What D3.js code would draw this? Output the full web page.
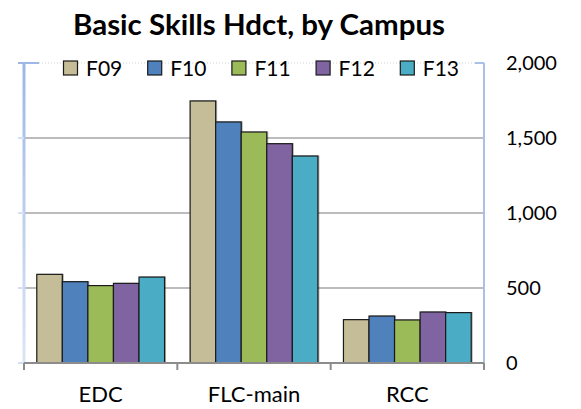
<!DOCTYPE html>
<html>
<head>
<meta charset="utf-8">
<script src="https://cdn.jsdelivr.net/npm/d3@7"></script>
<style>
  body { margin: 0; background: #fff; }
  text { font-family: Lato, "Open Sans", sans-serif; fill: #000; }
</style>
</head>
<body>
<svg id="chart" width="581" height="409"></svg>
<script>
const campuses = ['EDC', 'FLC-main', 'RCC'];
const terms = ['F09', 'F10', 'F11', 'F12', 'F13'];
const termColors = ['#c4bd97', '#4f81bd', '#9bbb59', '#8064a2', '#4bacc6'];
// headcount per campus, one array per term
const f09 = [591, 1747, 289];
const f10 = [542, 1607, 313];
const f11 = [516, 1540, 287];
const f12 = [531, 1462, 340];
const f13 = [573, 1380, 336];
const yTicks = [0, 500, 1000, 1500, 2000];

const seriesValues = [f09, f10, f11, f12, f13];
const rows = [];
terms.forEach((t, i) => {
  campuses.forEach((c, j) => rows.push({ term: t, campus: c, value: seriesValues[i][j], color: termColors[i] }));
});

const svg = d3.select('#chart');
const plotLeft = 24, plotRight = 484, plotTop = 63, plotBottom = 363;

let x = d3.scaleBand().domain(campuses).range([plotLeft, plotRight]);
let xInner = d3.scaleBand().domain(terms).range([0, x.bandwidth()]).paddingOuter(0.5);
let y = d3.scaleLinear().domain([0, 2000]).range([plotBottom, plotTop]);

// title
svg.append('text')
  .attr('x', 73).attr('y', 34.5)
  .attr('textLength', 372).attr('lengthAdjust', 'spacingAndGlyphs')
  .style('font-weight', 'bold').style('font-size', '28px')
  .text('Basic Skills Hdct, by Campus');

// gridlines
svg.append('g').selectAll('line')
  .data(yTicks.filter(d => d > 0))
  .join('line')
  .attr('x1', plotLeft).attr('x2', plotRight)
  .attr('y1', d => y(d)).attr('y2', d => y(d))
  .attr('stroke', d => d === 2000 ? '#d0d0d0' : '#a6a6a6')
  .attr('stroke-width', d => d === 2000 ? 1 : 1.5)
  .attr('stroke-dasharray', d => d === 2000 ? '1,2' : null);

// left axis (light blue, no labels)
let grad = svg.append('defs').append('linearGradient')
  .attr('id', 'axisGrad').attr('x1', 0).attr('x2', 0).attr('y1', 0).attr('y2', 1);
grad.append('stop').attr('offset', '0%').attr('stop-color', '#9db8e6');
grad.append('stop').attr('offset', '100%').attr('stop-color', '#dbe5f5');

svg.append('rect')
  .attr('x', plotLeft - 1.5).attr('y', plotTop).attr('width', 3).attr('height', plotBottom - plotTop)
  .attr('fill', 'url(#axisGrad)');
svg.append('g').selectAll('line')
  .data(yTicks)
  .join('line')
  .attr('x1', plotLeft - 6).attr('x2', d => d === 2000 ? plotLeft + 15 : plotLeft)
  .attr('y1', d => y(d)).attr('y2', d => y(d))
  .attr('stroke', d => d === 2000 ? '#9db8e6' : '#d3e0f3')
  .attr('stroke-width', 2);

// right axis line
svg.append('line')
  .attr('x1', plotRight).attr('x2', plotRight).attr('y1', plotTop).attr('y2', plotBottom)
  .attr('stroke', '#a9c0e8').attr('stroke-width', 2);
svg.append('line')
  .attr('x1', plotRight - 9).attr('x2', plotRight).attr('y1', plotTop).attr('y2', plotTop)
  .attr('stroke', '#a9c0e8').attr('stroke-width', 2);

// right tick labels
svg.append('g').selectAll('text')
  .data(yTicks)
  .join('text')
  .attr('x', 506).attr('y', d => y(d))
  .attr('dy', '0.36em')
  .style('font-size', '20px')
  .text(d => d3.format(',')(d));

// bars
let bars = svg.append('g').selectAll('g')
  .data(rows)
  .join('g')
  .attr('transform', d => `translate(${x(d.campus) + xInner(d.term)},0)`);

bars.append('rect')
  .attr('x', 1.5).attr('y', d => y(d.value) - 0.5)
  .attr('width', xInner.bandwidth()).attr('height', d => plotBottom - y(d.value))
  .attr('fill', '#000').attr('opacity', 0.3);

bars.append('rect')
  .attr('x', 0).attr('y', d => y(d.value))
  .attr('width', xInner.bandwidth()).attr('height', d => plotBottom - y(d.value))
  .attr('fill', d => d.color)
  .attr('stroke', '#1a1a1a').attr('stroke-width', 1.2);

// x axis
let xAxis = svg.append('g').attr('transform', `translate(0,${plotBottom})`);
xAxis.append('line').attr('x1', plotLeft).attr('x2', plotRight).attr('stroke', '#8c8c8c').attr('stroke-width', 2);
xAxis.selectAll('line.tick')
  .data(x.domain().map(d => x(d)).concat([plotRight]))
  .join('line')
  .attr('class', 'tick')
  .attr('x1', d => d).attr('x2', d => d)
  .attr('y1', 0).attr('y2', 7)
  .attr('stroke', '#8c8c8c').attr('stroke-width', 2);
xAxis.selectAll('text')
  .data(campuses)
  .join('text')
  .attr('x', d => x(d) + x.bandwidth() / 2)
  .attr('y', 39)
  .attr('text-anchor', 'middle')
  .style('font-size', '22px')
  .text(d => d);

// legend
let legend = svg.append('g').selectAll('g')
  .data(terms)
  .join('g')
  .attr('transform', (d, i) => `translate(${63.5 + i * 84.2},61)`);
legend.append('rect')
  .attr('width', 14).attr('height', 14)
  .attr('fill', (d, i) => termColors[i])
  .attr('stroke', '#1a1a1a').attr('stroke-width', 1.2);
legend.append('text')
  .attr('x', 22.5).attr('y', 14.5)
  .style('font-size', '21px')
  .text(d => d);
</script>
</body>
</html>
